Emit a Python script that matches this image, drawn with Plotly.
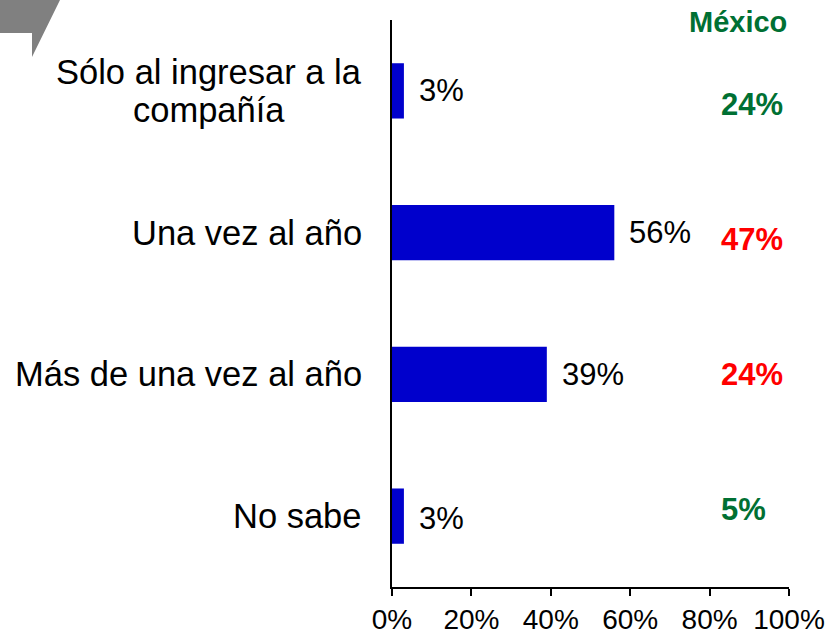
import plotly.graph_objects as go

# ---- data ----
categories = ["Sólo al ingresar a la<br>compañía", "Una vez al año", "Más de una vez al año", "No sabe"]
values = [3, 56, 39, 3]
value_labels = ["3%", "56%", "39%", "3%"]
mexico_title = "México"
mexico_values = ["24%", "47%", "24%", "5%"]
mexico_colors = ["#007033", "#ff0000", "#ff0000", "#007033"]
x_ticks = [0, 20, 40, 60, 80, 100]
x_tick_labels = ["0%", "20%", "40%", "60%", "80%", "100%"]

W, H = 828, 636
L, R, T, B = 392, 39, 20, 49
PW, PH = W - L - R, H - T - B

def px_x(p):
    return (p - L) / PW

def px_y(p):
    return (H - B - p) / PH

FONT = "Arial, 'Liberation Sans', sans-serif"

fig = go.Figure()
fig.add_trace(go.Bar(
    x=values, y=categories, orientation="h",
    marker=dict(color="#0000cc", line=dict(width=0)),
    width=0.39, showlegend=False, hoverinfo="skip",
))

ann = []
# category labels
for c in categories:
    lines = c.split("<br>")
    if len(lines) == 1:
        ann.append(dict(x=0, xref="paper", y=c, yref="y", text=c, showarrow=False,
                        xanchor="right", yanchor="middle", xshift=-28,
                        font=dict(size=34.5, color="black", family=FONT)))
    else:
        shifts = [19, -19]
        for ln, s in zip(lines, shifts):
            ann.append(dict(x=px_x(209), xref="paper", y=c, yref="y", text=ln, showarrow=False,
                            xanchor="center", yanchor="middle", yshift=s,
                            font=dict(size=34.5, color="black", family=FONT)))
# value labels
val_shift = [0, 0, 0, -2]
for c, v, t, s in zip(categories, values, value_labels, val_shift):
    ann.append(dict(x=v, xref="x", y=c, yref="y", text=t, showarrow=False,
                    xanchor="left", yanchor="middle", xshift=13, yshift=s,
                    font=dict(size=31, color="black", family=FONT)))
# Mexico column
ann.append(dict(x=px_x(737.5), xref="paper", y=px_y(22), yref="paper", text="<b>%s</b>" % mexico_title,
                showarrow=False, xanchor="center", yanchor="middle",
                font=dict(size=29, color="#007033", family=FONT)))
mex_shift = [-14, -7, 0, 7]
for c, t, col, s in zip(categories, mexico_values, mexico_colors, mex_shift):
    ann.append(dict(x=px_x(719), xref="paper", y=c, yref="y", text="<b>%s</b>" % t, showarrow=False,
                    xanchor="left", yanchor="middle", yshift=s,
                    font=dict(size=31, color=col, family=FONT)))

# gray corner shape
pts = [(0, 0), (60, 0), (32, 57), (32, 33), (0, 33)]
path = "M " + " L ".join("%f,%f" % (px_x(a), px_y(b)) for a, b in pts) + " Z"

fig.update_layout(
    width=W, height=H, autosize=False,
    margin=dict(l=L, r=R, t=T, b=B, pad=0),
    paper_bgcolor="white", plot_bgcolor="white",
    annotations=ann,
    shapes=[dict(type="path", path=path, xref="paper", yref="paper",
                 fillcolor="#808080", line=dict(width=0), layer="above")],
    xaxis=dict(range=[0, 100], tickvals=x_ticks, ticktext=x_tick_labels, automargin=False,
               showgrid=False, zeroline=False, showline=True, linecolor="black", linewidth=1.5,
               ticks="outside", ticklen=7, tickwidth=1.5, tickcolor="black",
               tickfont=dict(size=28, color="black", family=FONT), fixedrange=True),
    yaxis=dict(categoryorder="array", categoryarray=categories, autorange="reversed",
               automargin=False,
               showticklabels=False, showgrid=False, zeroline=False,
               showline=True, linecolor="black", linewidth=1.5, ticks="", fixedrange=True),
    bargap=0.61,
)

fig.write_html("out.html", config={"displayModeBar": False, "responsive": False},
               post_script="document.body.style.margin='0';document.body.style.overflow='hidden';")
